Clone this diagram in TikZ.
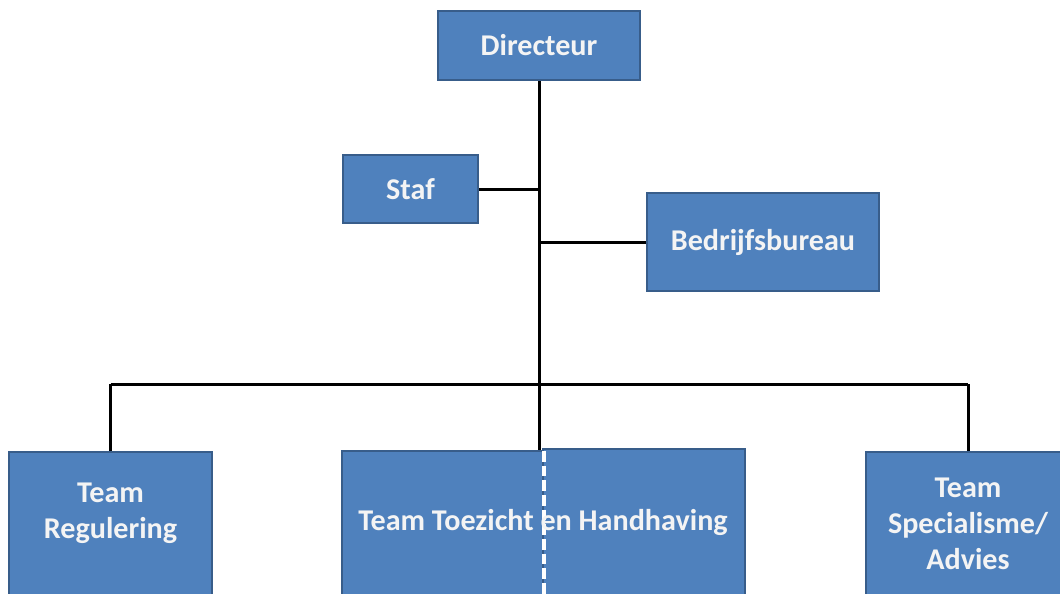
\documentclass[tikz,border=0pt]{standalone}
\usepackage{fontspec}
\setmainfont{Carlito}
\usepackage{xcolor}
\usetikzlibrary{calc}

\definecolor{boxblue}{HTML}{4F81BD}
\definecolor{boxline}{HTML}{385D8A}
\definecolor{boxtext}{HTML}{F4F4F4}

\tikzset{
	unit/.style = {draw = boxline, fill = boxblue, line width = 1.5pt, inner sep = 0pt},
	unittext/.style = {text = boxtext, font = \bfseries\fontsize{22.6}{27}\selectfont, align = center},
	link/.style = {line width = 2.25pt, black}
}

\begin{document}
\begin{tikzpicture}[x = 0.75pt, y = -0.75pt]
		\useasboundingbox (0,0) rectangle (1060,593);
		\clip (0,0) rectangle (1060,593);

		\def\bar{384};

		\node (directeur) at (539,45.5) [unit, unittext, minimum width = 151.5pt, minimum height = 51.75pt] {Directeur};
		\node (staf) at (410.5,189) [unit, unittext, minimum width = 101.25pt, minimum height = 51pt] {Staf};
		\node (bureau) at (763,242) [unit, unittext, minimum width = 174pt, minimum height = 73.5pt] {Bedrijfsbureau};

		\node (regulering) at (110.5,528) [unit, minimum width = 152.25pt, minimum height = 114pt] {};
		\node (toezicht left) at (442.5,527.5) [unit, minimum width = 150.75pt, minimum height = 114.75pt] {};
		\node (toezicht right) at (644,526.5) [unit, minimum width = 151.5pt, minimum height = 116.25pt] {};
		\node (specialisme) at (968,528) [unit, minimum width = 153pt, minimum height = 114pt] {};

		\node (regulering text) at (110.5,513) [unittext] {Team\\Regulering};
		\node (specialisme text) at (968,524) [unittext] {Team\\Specialisme/\\Advies};

		\coordinate (split top) at ($(toezicht left.north east) + (0,1)$);
		\coordinate (split bottom) at (toezicht left.south east);
		\coordinate (trunk) at (directeur.south |- 0,\bar);

		\draw [link] (directeur.south) -- (directeur.south |- toezicht left.north);
		\draw [link] (staf.east) -- (staf.east -| directeur.south);
		\draw [link] (bureau.west) -- (bureau.west -| directeur.south);

		\draw [link] (regulering.north |- trunk) -- (specialisme.north |- trunk);
		\draw [link] (regulering.north) -- (regulering.north |- trunk);
		\draw [link] (specialisme.north) -- (specialisme.north |- trunk);

		\draw [line width = 2.6pt, white, dash pattern = on 8pt off 3pt] (split top) -- (split bottom);

		\node (toezicht text) at (543,522) [unittext] {Team Toezicht en Handhaving};
	\end{tikzpicture}
\end{document}
